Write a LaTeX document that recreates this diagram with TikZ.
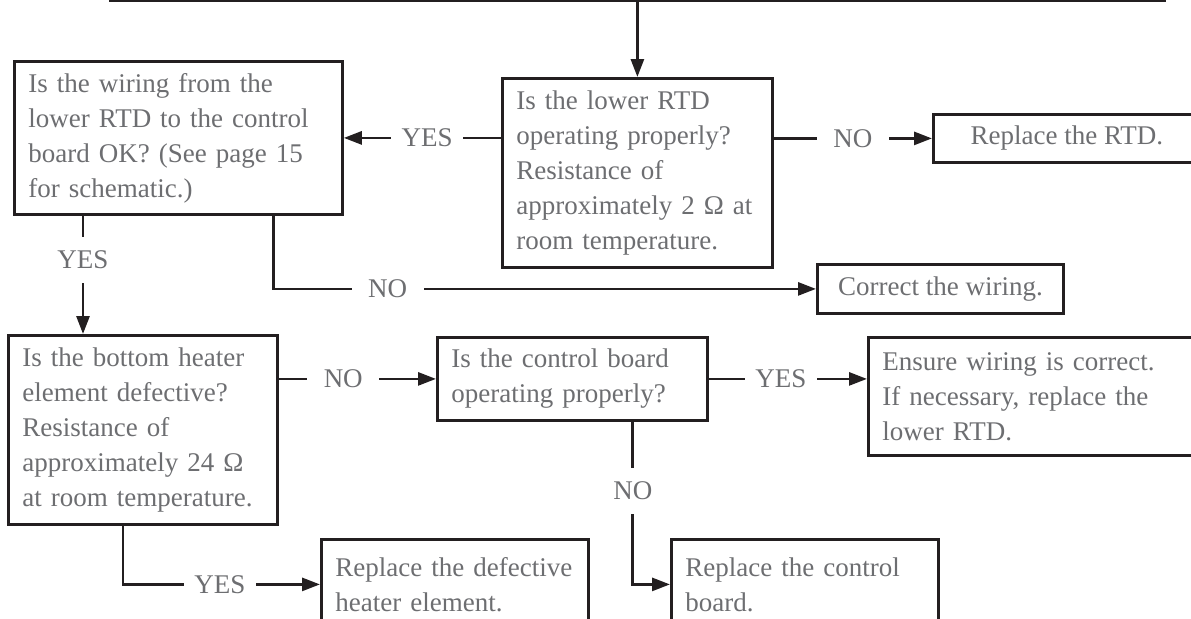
\documentclass[tikz,border=0pt]{standalone}
\usepackage{fontspec}
\setmainfont{Liberation Serif}
\usepackage{xcolor}
\usepackage{tikz}
\usetikzlibrary{arrows.meta}
\definecolor{textgray}{HTML}{6D6E71}
\definecolor{edgecolor}{HTML}{231F20}

\begin{document}
\begin{tikzpicture}[x=0.5pt, y=-0.5pt,
  box/.style={draw=edgecolor, line width=1.4pt, rectangle, inner xsep=7pt, inner ysep=0pt, text=textgray, font=\fontsize{13.5pt}{17.5pt}\selectfont},
  qbox/.style={box, anchor=north west, align=left},
  arr/.style={draw=edgecolor, line width=1.4pt, -{Triangle[length=9pt, width=6.5pt]}},
  answer/.style={fill=white, text=textgray, inner sep=0pt, minimum width=36pt, minimum height=23pt, font=\fontsize{13.5pt}{17.5pt}\selectfont}]%
\clip (0, 0) rectangle (1191, 618);%
\node[box, anchor=south west, minimum width=527pt, minimum height=50pt] (top) at (109, 2) {};%
\node[qbox, text width=150pt, minimum height=76.5pt] (wiring) at (13, 60) {Is the wiring from the\\lower RTD to the control\\board OK? (See page 15\\for schematic.)};%
\node[qbox, text width=121pt, minimum height=94.5pt] (q1) at (501, 77) {Is the lower RTD\\operating properly?\\Resistance of\\approximately 2 Ω at\\room temperature.};%
\node[box, anchor=north west, minimum width=133.5pt, minimum height=24pt] (rtd) at (932, 113) {Replace the RTD.};%
\node[box, anchor=north west, minimum width=123pt, minimum height=24.5pt] (correct) at (816, 263) {Correct the wiring.};%
\node[qbox, text width=120.5pt, minimum height=94.5pt] (heater) at (7, 334) {Is the bottom heater\\element defective?\\Resistance of\\approximately 24 Ω\\at room temperature.};%
\node[qbox, text width=121pt, minimum height=41.5pt] (control) at (436, 336) {Is the control board\\operating properly?};%
\node[qbox, text width=151pt, minimum height=59pt] (ensure) at (867, 336) {Ensure wiring is correct.\\If necessary, replace the\\lower RTD.};%
\node[qbox, text width=119.5pt, minimum height=45pt] (rdefect) at (320, 538) {Replace the defective\\heater element.};%
\node[qbox, text width=119.5pt, minimum height=45pt] (rcontrol) at (670, 538) {Replace the control\\board.};%
\coordinate (wyes) at ([xshift=35pt]wiring.south west);%
\coordinate (wno) at ([xshift=-35pt]wiring.south east);%
\coordinate (hyes) at ([xshift=58pt]heater.south west);%
\coordinate (cno) at ([xshift=-38pt]control.south east);%
\draw[arr] (top.south) -- (q1.north);%
\draw[arr] (q1.west |- wiring.east) -- node[answer, pos=0.47] {YES} (wiring.east);%
\draw[arr] (q1.east |- rtd.west) -- node[answer] {NO} (rtd.west);%
\draw[arr] (wyes) -- node[answer, pos=0.37] {YES} (wyes |- heater.north);%
\draw[arr] (wno) |- node[answer, pos=0.605] {NO} (correct.west);%
\draw[arr] (heater.east |- control.west) -- node[answer, pos=0.41] {NO} (control.west);%
\draw[arr] (control.east) -- node[answer, pos=0.455] {YES} (control.east -| ensure.west);%
\draw[arr] (cno) |- node[answer, pos=0.212] {NO} (rcontrol.west);%
\draw[arr] (hyes) |- node[answer, pos=0.746] {YES} (rdefect.west);%
\end{tikzpicture}
\end{document}
